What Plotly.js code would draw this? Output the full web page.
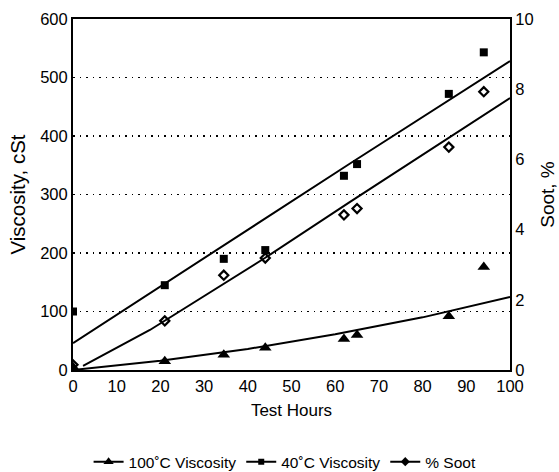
<!DOCTYPE html>
<html>
<head>
<meta charset="utf-8">
<script src="https://cdn.plot.ly/plotly-3.0.1.min.js"></script>
<style>html,body{margin:0;padding:0;background:#fff;}#chart{width:559px;height:472px;}</style>
</head>
<body>
<div id="chart"></div>
<script>
// Data
var hours = [0, 21, 34.5, 44, 62, 65, 86, 94];
var visc40 = [100, 145, 190, 205, 332, 352, 472, 543];
var visc100 = [5, 15, 26, 38, 53, 60, 92, 176];
var soot = [0.15, 1.4, 2.7, 3.19, 4.42, 4.6, 6.35, 7.93];

// Trend lines
var trend40X = [0, 17.6, 63.4, 100];
var trend40Y = [46, 131, 353, 528];
var trend100X = [0, 20, 40, 60, 80, 100];
var trend100Y = [0, 16, 36, 61, 90, 125];
var trendSootX = [2.3, 17.6, 43.9, 63.4, 100];
var trendSootY = [0.12, 1.14, 3.19, 4.79, 7.75];

var names = ['100\u02DAC Viscosity', '40\u02DAC Viscosity', '% Soot'];

var fam = 'Liberation Sans, Arial, Helvetica, sans-serif';
var lineStyle = {color: '#000', width: 2};

var traces = [
  {x: trend100X, y: trend100Y, mode: 'lines', line: lineStyle, showlegend: false, hoverinfo: 'skip'},
  {x: trend40X, y: trend40Y, mode: 'lines', line: lineStyle, showlegend: false, hoverinfo: 'skip'},
  {x: trendSootX, y: trendSootY, yaxis: 'y2', mode: 'lines', line: lineStyle, showlegend: false, hoverinfo: 'skip'},
  {x: hours, y: visc100, mode: 'markers', marker: {symbol: 'triangle-up', size: 11, color: '#000'}, showlegend: false},
  {x: hours, y: visc40, mode: 'markers', marker: {symbol: 'square', size: 8, color: '#000'}, showlegend: false},
  {x: hours, y: soot, yaxis: 'y2', mode: 'markers', marker: {symbol: 'diamond-open', size: 7, color: '#000', line: {width: 2.2, color: '#000'}}, showlegend: false},
  // legend entries
  {x: [null], y: [null], mode: 'lines+markers', name: names[0], line: lineStyle, marker: {symbol: 'triangle-up', size: 9, color: '#000'}},
  {x: [null], y: [null], mode: 'lines+markers', name: names[1], line: lineStyle, marker: {symbol: 'square', size: 6, color: '#000'}},
  {x: [null], y: [null], mode: 'lines+markers', name: names[2], line: lineStyle, marker: {symbol: 'diamond', size: 7, color: '#000'}}
];

var layout = {
  width: 559, height: 472,
  margin: {l: 73, r: 49, t: 19, b: 102},
  paper_bgcolor: '#fff', plot_bgcolor: '#fff',
  font: {family: fam, size: 16, color: '#000'},
  xaxis: {
    range: [0, 100], dtick: 10, tick0: 0, automargin: false,
    showline: true, linecolor: '#000', linewidth: 2, mirror: true,
    showgrid: false, zeroline: false, ticks: '',
    tickfont: {family: fam, size: 16.5, color: '#000'},
    title: {text: 'Test Hours', font: {family: fam, size: 17, color: '#000'}, standoff: 10}
  },
  yaxis: {
    range: [0, 600], dtick: 100, tick0: 0, automargin: false,
    showline: true, linecolor: '#000', linewidth: 2,
    showgrid: true, gridcolor: '#000', gridwidth: 1.5, griddash: '1.5px,5px',
    zeroline: false, ticks: '',
    tickfont: {family: fam, size: 16.5, color: '#000'},
    title: {text: 'Viscosity, cSt', font: {family: fam, size: 20.5, color: '#000'}, standoff: 9}
  },
  yaxis2: {
    range: [0, 10], dtick: 2, tick0: 0, automargin: false,
    overlaying: 'y', side: 'right', anchor: 'x',
    showline: true, linecolor: '#000', linewidth: 2,
    showgrid: false, zeroline: false, ticks: '',
    tickfont: {family: fam, size: 16.5, color: '#000'},
    title: {text: 'Soot, %', font: {family: fam, size: 19, color: '#000'}, standoff: 8}
  },
  legend: {
    orientation: 'h', x: 0.51, xref: 'container', xanchor: 'center',
    y: 0.021, yref: 'container', yanchor: 'middle',
    font: {family: fam, size: 15.5, color: '#000'},
    itemwidth: 30, tracegroupgap: 0, bgcolor: 'rgba(0,0,0,0)'
  },
  showlegend: true
};

Plotly.newPlot('chart', traces, layout, {staticPlot: true, displayModeBar: false});
</script>
</body>
</html>
